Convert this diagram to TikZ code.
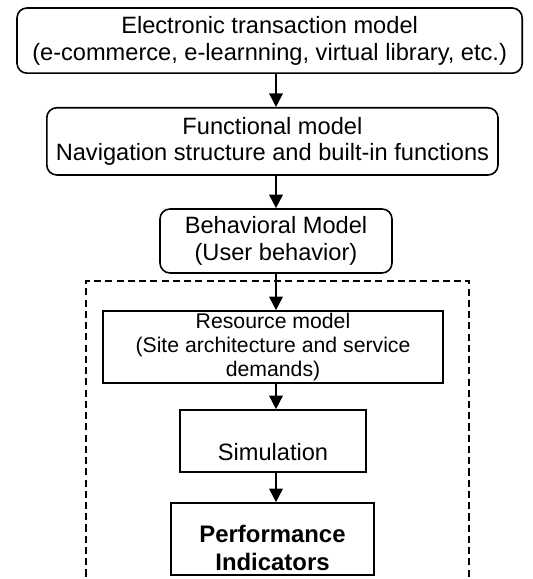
\documentclass[tikz,border=0pt]{standalone}
\usepackage{fontspec}
\setmainfont{Liberation Sans}
\usetikzlibrary{arrows.meta}

\begin{document}
\begin{tikzpicture}[
		roundbox/.style={draw, line width=0.4mm, rounded corners=0.25cm, inner sep=0pt, align=center, font=\fontsize{16.8}{19.2}\selectfont},
		sharpbox/.style={draw, line width=0.4mm, inner sep=0pt, align=center, font=\fontsize{16.8}{19.2}\selectfont},
		flow/.style={line width=0.4mm, -{Triangle[length=0.34cm, width=0.34cm]}},
	]
			%%%%% START %%%%%
			
			\clip (0, 0) rectangle (13.3, 14.475);
			
			\node[roundbox, minimum width=12.63cm, minimum height=1.63cm] (trans) at (6.74, 13.46) {Electronic transaction model\\(e-commerce, e-learnning, virtual library, etc.)};
			\node[roundbox, minimum width=11.28cm, minimum height=1.68cm] (func) at (6.81, 10.94) {Functional model\\Navigation structure and built-in functions};
			\node[roundbox, minimum width=5.8cm, minimum height=1.6cm] (behav) at (6.9, 8.45) {Behavioral Model\\(User behavior)};
			
			% dashed frame runs off the bottom
			\draw[line width=0.4mm, dash pattern=on 5pt off 3pt] (2.15, -0.5) rectangle (11.725, 7.45);
			
			\node[sharpbox, minimum width=8.5cm, minimum height=1.8cm, font=\fontsize{15.1}{17.2}\selectfont] (res) at (6.825, 5.8) {Resource model\\(Site architecture and service\\demands)};
			
			\node[sharpbox, minimum width=4.65cm, minimum height=1.55cm] (sim) at (6.825, 3.45) {};
			\node[font=\fontsize{16.8}{19.2}\selectfont] (simtext) at ([yshift=-0.275cm]sim.center) {Simulation};
			
			\node[sharpbox, minimum width=5.075cm, minimum height=1.8cm] (perf) at (6.8125, 1.0) {};
			\node[align=center, font=\fontsize{17}{20}\selectfont\bfseries] (perftext) at ([yshift=-0.225cm]perf.center) {Performance\\Indicators};
			
			\draw[flow] (behav.north |- trans.south) -- (behav.north |- func.north);
			\draw[flow] (behav.north |- func.south) -- (behav.north);
			\draw[flow] (behav.south) -- (behav.south |- res.north);
			\draw[flow] (behav.south |- res.south) -- (behav.south |- sim.north);
			\draw[flow] (behav.south |- sim.south) -- (behav.south |- perf.north);
			
			%%%%% END %%%%%
\end{tikzpicture}
\end{document}
